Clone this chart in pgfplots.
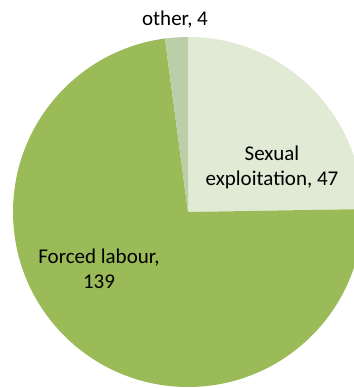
\documentclass[border=0pt]{standalone}
\usepackage{fontspec}
\setmainfont{Carlito}
\usepackage{pgfplots}
\pgfplotsset{compat=1.18}

\definecolor{sexcol}{RGB}{224,234,212}
\definecolor{forcedcol}{RGB}{155,187,89}
\definecolor{othercol}{RGB}{187,206,167}

% slice values
\def\vSex{47}
\def\vForced{139}
\def\vOther{4}
\def\vTot{190}

\begin{document}
\begin{tikzpicture}
\begin{axis}[
    width=354bp, height=388bp, scale only axis,
    xmin=0, xmax=354, ymin=0, ymax=388,
    hide axis, clip=true
]
% pie: centre (188,176), radius 175, first slice starts at 12 o'clock, clockwise
\fill[sexcol] (188,176) -- (188,351)
    arc[start angle=90, delta angle=-\vSex/\vTot*360, radius=175bp] -- cycle;
\fill[forcedcol] (188,176) -- ++({90-\vSex/\vTot*360}:175bp)
    arc[start angle={90-\vSex/\vTot*360}, delta angle=-\vForced/\vTot*360, radius=175bp] -- cycle;
\fill[othercol] (188,176) -- ++({90-(\vSex+\vForced)/\vTot*360}:175bp)
    arc[start angle={90-(\vSex+\vForced)/\vTot*360}, delta angle=-\vOther/\vTot*360, radius=175bp] -- cycle;

\node[align=center, font=\fontsize{21bp}{25bp}\selectfont] at (272,221) {Sexual\\exploitation, 47};
\node[align=center, font=\fontsize{21bp}{25bp}\selectfont] at (99,119) {Forced labour,\\139};
\node[align=center, font=\fontsize{21bp}{25bp}\selectfont] at (175,368) {other, 4};
\end{axis}
\pgfresetboundingbox
\useasboundingbox (current axis.south west) rectangle (current axis.north east);
\end{tikzpicture}
\end{document}
